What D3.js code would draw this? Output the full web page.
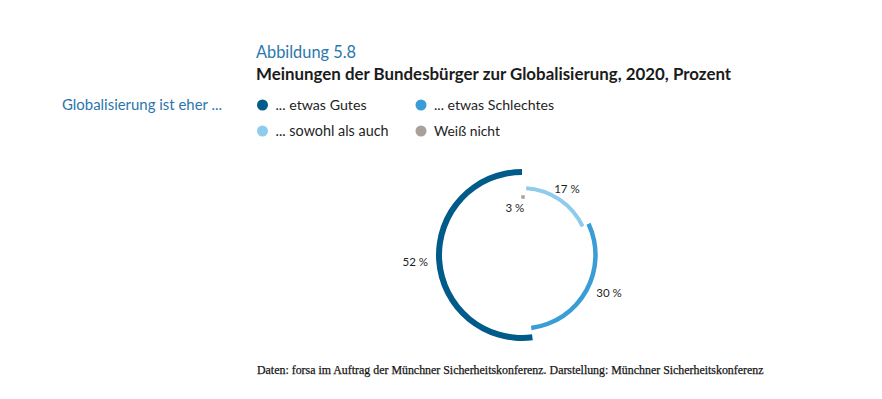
<!DOCTYPE html>
<html><head><meta charset="utf-8">
<script src="https://cdn.jsdelivr.net/npm/d3@7"></script>
<style>body{margin:0;background:#fff}svg{display:block}</style>
</head><body>
<svg id="c" width="882" height="399"></svg>
<script>
// ---- data ----
const categories = ["... etwas Gutes", "... etwas Schlechtes", "... sowohl als auch", "Weiß nicht"];
const values = [52, 30, 17, 3];
const valueLabels = ["52 %", "30 %", "17 %", "3 %"];
const ringOrder = ["... etwas Gutes", "... etwas Schlechtes", "... sowohl als auch", "Weiß nicht"];
const figureLabel = "Abbildung 5.8";
const titleText = "Meinungen der Bundesbürger zur Globalisierung, 2020, Prozent";
const legendTitle = "Globalisierung ist eher ...";
const sourceText = "Daten: forsa im Auftrag der Münchner Sicherheitskonferenz. Darstellung: Münchner Sicherheitskonferenz";

// ---- styles ----
const colors = {"... etwas Gutes":"#005b8a","... etwas Schlechtes":"#3a9dd6","... sowohl als auch":"#8ecbec","Weiß nicht":"#a9a09a"};
const ringRadius = [83, 73.5, 67, 58];
const ringWidth = [6, 4.5, 4, 3.5];
const labelRadius = [107, 95, 80, 48];
const labelShift = [0, 1.45, 0, 1.9];

const svg = d3.select("#c");
const sans = "Lato, 'Open Sans', sans-serif";

function fit(sel, target){
  const n = sel.node();
  let fs = parseFloat(sel.attr("font-size"));
  for(let i=0;i<3;i++){ const w = n.getComputedTextLength(); fs = fs*target/w; sel.attr("font-size", fs); }
}

const t1 = svg.append("text").attr("x",256).attr("y",58).attr("font-family",sans).attr("font-size",16)
  .attr("fill","#2a78ad").text(figureLabel); fit(t1,100);
const t2 = svg.append("text").attr("x",256).attr("y",80).attr("font-family",sans).attr("font-weight","bold").attr("font-size",15)
  .attr("fill","#1b1b1b").text(titleText); fit(t2,475);
const t3 = svg.append("text").attr("x",62).attr("y",110).attr("font-family",sans).attr("font-size",14)
  .attr("fill","#2a75ab").text(legendTitle); fit(t3,160);

// legend
const legCol = d3.scalePoint().domain([0,1]).range([262.5,421]);
const legRow = d3.scalePoint().domain([0,1]).range([105,131]);
const legW = [91,120,113,66];
categories.forEach((c,i)=>{
  const col = i%2, row = Math.floor(i/2);
  const g = svg.append("g");
  g.append("circle").attr("cx",legCol(col)).attr("cy",legRow(row)).attr("r",5.5).attr("fill",colors[c]);
  const t = g.append("text").attr("x",legCol(col)+13).attr("y",legRow(row)+5).attr("font-family",sans)
    .attr("font-size",14).attr("fill","#1e1e1e").text(c);
  fit(t, legW[i]);
});

// ring
const cx = 522, cy = 255;
const angle = d3.scaleLinear().domain([0,100]).range([0, 2*Math.PI]);
const gR = svg.append("g").attr("transform",`translate(${cx},${cy})`);
let cum = 0;
values.forEach((v,i)=>{
  const a0 = -angle(cum), a1 = -angle(cum+v);
  const r = ringRadius[i], w = ringWidth[i];
  const c = colors[ringOrder[i]];
  if(i < 3){
    gR.append("path").attr("d", d3.arc()({innerRadius:r-w/2, outerRadius:r+w/2, startAngle:a1, endAngle:a0}))
      .attr("fill", c);
  } else {
    const am = -angle(cum+1);
    gR.append("rect").attr("x", r*Math.sin(am)-w/2+1).attr("y", -r*Math.cos(am)-w/2).attr("width",w).attr("height",w).attr("fill",c);
  }
  const mid = -angle(cum+v/2+labelShift[i]);
  gR.append("text").attr("x", labelRadius[i]*Math.sin(mid)).attr("y", -labelRadius[i]*Math.cos(mid)+4)
    .attr("text-anchor","middle").attr("font-family",sans).attr("font-size",11.5).attr("fill","#1e1e1e")
    .text(valueLabels[i]);
  cum += v;
});

const t4 = svg.append("text").attr("x",257).attr("y",374).attr("font-family","'Liberation Serif', 'DejaVu Serif', serif")
  .attr("font-size",10).attr("fill","#161616").attr("stroke","#161616").attr("stroke-width",0.25).text(sourceText); fit(t4,506);
</script>
</body></html>
